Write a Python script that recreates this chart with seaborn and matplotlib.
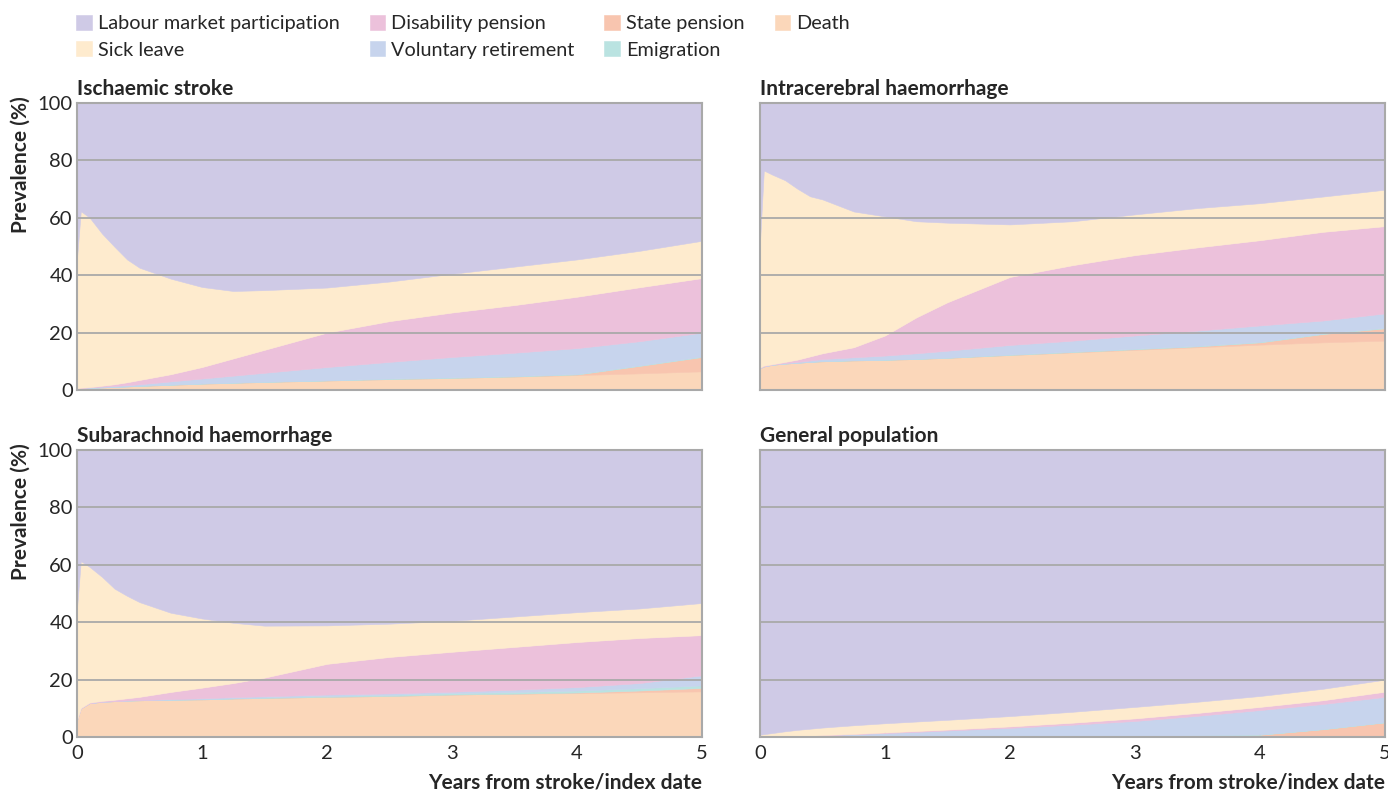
import matplotlib
matplotlib.use("Agg")
import matplotlib.pyplot as plt
import seaborn as sns

# Time points (years from stroke/index date)
years = [0, 0.03, 0.1, 0.2, 0.3, 0.4, 0.5, 0.75, 1, 1.25, 1.5, 2, 2.5, 3, 3.5, 4, 4.5, 5]

# Band thickness (%) per state, bottom to top
# Ischaemic stroke
isch_death = [0.3, 0.5, 0.7, 0.9, 1.1, 1.25, 1.4, 1.8, 2.2, 2.5, 2.8, 3.3, 3.8, 4.2, 4.7, 5.2, 5.8, 6.5]
isch_state = [0, 0, 0, 0, 0, 0, 0, 0, 0, 0, 0, 0, 0, 0, 0, 0.2, 2.6, 5.0]
isch_emig = [0, 0, 0, 0, 0, 0, 0.1, 0.1, 0.1, 0.1, 0.1, 0.1, 0.2, 0.2, 0.2, 0.2, 0.2, 0.2]
isch_vol = [0.2, 0.2, 0.2, 0.3, 0.3, 0.45, 0.5, 1.1, 1.7, 2.4, 3.1, 4.6, 5.8, 7.1, 8.1, 9.0, 8.4, 8.3]
isch_dis = [0.1, 0.1, 0.1, 0.3, 0.6, 1.0, 1.5, 2.5, 4.0, 6.0, 8.0, 12.0, 14.2, 15.5, 16.6, 17.9, 18.8, 19.0]
isch_sick = [45.4, 61.5, 59.1, 53.0, 47.9, 42.8, 39.1, 33.3, 27.9, 23.5, 20.8, 15.7, 13.8, 13.5, 13.4, 13.0, 12.7, 13.0]
isch_lab = [54.0, 37.7, 39.9, 45.5, 50.1, 54.5, 57.4, 61.2, 64.1, 65.5, 65.2, 64.3, 62.2, 59.5, 57.0, 54.5, 51.5, 48.0]

# Intracerebral haemorrhage
ich_death = [7.6, 8.2, 8.8, 9.2, 9.5, 9.8, 10.0, 10.3, 10.5, 10.8, 11.2, 12.2, 13.1, 14.0, 14.9, 15.8, 16.6, 17.2]
ich_state = [0, 0, 0, 0, 0, 0, 0, 0, 0, 0, 0, 0, 0.1, 0.2, 0.3, 0.8, 2.9, 4.3]
ich_emig = [0, 0, 0, 0, 0, 0, 0.1, 0.1, 0.1, 0.1, 0.1, 0.2, 0.2, 0.2, 0.2, 0.2, 0.2, 0.2]
ich_vol = [0.1, 0.1, 0.1, 0.2, 0.3, 0.5, 0.7, 1.0, 1.4, 1.9, 2.4, 3.3, 3.8, 4.6, 5.3, 5.7, 4.5, 5.0]
ich_dis = [0.1, 0.2, 0.1, 0.4, 0.8, 1.4, 2.0, 3.5, 7.0, 12.5, 16.9, 23.7, 26.3, 28.0, 29.0, 29.7, 30.9, 30.4]
ich_sick = [44.2, 68.0, 66.0, 63.3, 59.5, 55.8, 53.6, 47.3, 41.5, 33.5, 27.7, 18.3, 15.3, 14.2, 13.7, 12.9, 12.3, 12.7]
ich_lab = [48.0, 23.5, 25.0, 26.9, 29.9, 32.5, 33.6, 37.8, 39.5, 41.2, 41.7, 42.3, 41.2, 38.8, 36.6, 34.9, 32.6, 30.2]

# Subarachnoid haemorrhage
sah_death = [6.0, 10.0, 11.8, 12.3, 12.5, 12.7, 12.8, 13.0, 13.1, 13.4, 13.6, 14.0, 14.3, 14.8, 15.1, 15.3, 15.6, 15.9]
sah_state = [0, 0, 0, 0, 0, 0, 0, 0, 0, 0, 0, 0, 0, 0, 0, 0.2, 0.6, 1.2]
sah_emig = [0, 0, 0, 0, 0, 0, 0, 0, 0.1, 0.1, 0.2, 0.3, 0.4, 0.5, 0.6, 0.7, 0.8, 0.9]
sah_vol = [0, 0, 0, 0, 0, 0.05, 0.1, 0.2, 0.3, 0.4, 0.4, 0.5, 0.5, 0.5, 0.8, 1.2, 1.8, 3.5]
sah_dis = [0, 0.1, 0.2, 0.3, 0.5, 0.75, 1.1, 2.5, 3.7, 4.9, 6.5, 10.7, 12.7, 13.9, 14.9, 15.7, 15.7, 14.0]
sah_sick = [39.0, 51.2, 47.3, 43.2, 38.7, 35.7, 33.0, 27.6, 24.1, 21.0, 18.1, 13.4, 11.6, 10.8, 10.6, 10.4, 10.3, 11.2]
sah_lab = [55.0, 38.7, 40.7, 44.2, 48.3, 50.8, 53.0, 56.7, 58.7, 60.2, 61.2, 61.1, 60.5, 59.5, 58.0, 56.5, 55.2, 53.3]

# General population
gen_death = [0, 0, 0.05, 0.1, 0.1, 0.1, 0.1, 0.1, 0.1, 0.1, 0.1, 0.2, 0.2, 0.2, 0.3, 0.3, 0.4, 0.5]
gen_state = [0, 0, 0, 0, 0, 0, 0, 0, 0, 0, 0, 0, 0, 0.1, 0.2, 0.5, 2.3, 4.6]
gen_emig = [0, 0, 0, 0, 0, 0, 0.1, 0.1, 0.1, 0.1, 0.1, 0.1, 0.1, 0.1, 0.1, 0.1, 0.1, 0.1]
gen_vol = [0, 0.05, 0.1, 0.15, 0.2, 0.3, 0.4, 0.8, 1.2, 1.6, 2.1, 2.9, 4.0, 5.2, 6.8, 8.5, 8.7, 8.8]
gen_dis = [0, 0, 0, 0, 0, 0, 0.1, 0.1, 0.2, 0.3, 0.3, 0.5, 0.7, 0.9, 1.0, 1.1, 1.3, 1.8]
gen_sick = [0.8, 0.95, 1.25, 1.75, 2.2, 2.5, 2.6, 3.0, 3.2, 3.3, 3.4, 3.6, 3.8, 4.0, 3.9, 3.8, 4.0, 4.2]
gen_lab = [99.2, 99.0, 98.6, 98.0, 97.5, 97.1, 96.7, 95.9, 95.2, 94.6, 94.0, 92.7, 91.2, 89.5, 87.7, 85.7, 83.2, 80.0]

panel_titles = ["Ischaemic stroke", "Intracerebral haemorrhage",
                "Subarachnoid haemorrhage", "General population"]
state_labels = ["Death", "State pension", "Emigration", "Voluntary retirement",
                "Disability pension", "Sick leave", "Labour market participation"]
state_colors = ["#FBD7BA", "#F8C5AF", "#BAE3E1", "#C7D4ED",
                "#ECC1DB", "#FEEBCE", "#CFCAE6"]

panels = [
    [isch_death, isch_state, isch_emig, isch_vol, isch_dis, isch_sick, isch_lab],
    [ich_death, ich_state, ich_emig, ich_vol, ich_dis, ich_sick, ich_lab],
    [sah_death, sah_state, sah_emig, sah_vol, sah_dis, sah_sick, sah_lab],
    [gen_death, gen_state, gen_emig, gen_vol, gen_dis, gen_sick, gen_lab],
]

sns.set_theme(style="white")
plt.rcParams['font.family'] = ['Lato', 'DejaVu Sans']

fig = plt.figure(figsize=(13.88, 7.93), dpi=100)
positions = [
    [0.0555, 0.5082, 0.4503, 0.3619],
    [0.5476, 0.5082, 0.4503, 0.3619],
    [0.0555, 0.0706, 0.4503, 0.3619],
    [0.5476, 0.0706, 0.4503, 0.3619],
]

grey = "#A9A9A9"
for i, (pos, layers, title) in enumerate(zip(positions, panels, panel_titles)):
    ax = fig.add_axes(pos)
    polys = ax.stackplot(years, *layers, colors=state_colors, labels=state_labels,
                         edgecolor="face", linewidth=0.4)
    ax.set_xlim(0, 5)
    ax.set_ylim(0, 100)
    ax.set_yticks([0, 20, 40, 60, 80, 100])
    ax.set_xticks([0, 1, 2, 3, 4, 5])
    for yv in [20, 40, 60, 80]:
        ax.axhline(yv, color=grey, lw=1.3, zorder=5)
    for sp in ax.spines.values():
        sp.set_color(grey)
        sp.set_linewidth(1.5)
        sp.set_zorder(6)
    ax.tick_params(axis="x", direction="in", length=6, width=1.3, color=grey,
                   labelsize=14.5, pad=6, bottom=True)
    ax.tick_params(axis="y", length=0, labelsize=14.5, pad=3)
    if i < 2:
        ax.tick_params(axis="x", labelbottom=False)
    else:
        ax.set_xlabel("Years from stroke/index date", fontsize=15,
                      fontweight="bold", loc="right", labelpad=7)
    if i % 2 == 1:
        ax.tick_params(axis="y", labelleft=False)
    else:
        ax.text(-0.091, 0.787, "Prevalence (%)", transform=ax.transAxes,
                rotation=90, ha="center", va="center", fontsize=15,
                fontweight="bold")
    ax.set_title(title, loc="left", fontsize=15, fontweight="bold", pad=6)
    if i == 0:
        handles = polys

# Legend order: rows of Labour/Disability/State/Death, then Sick/Voluntary/Emigration
order = [6, 5, 4, 3, 1, 2, 0]
fig.legend([handles[k] for k in order], [state_labels[k] for k in order],
           loc="upper left", bbox_to_anchor=(0.042, 1.004), ncol=4, frameon=False,
           fontsize=14.3, handlelength=0.8, handleheight=0.8, handletextpad=0.3,
           columnspacing=1.5, labelspacing=0.45)

fig.savefig("out.png", dpi=100)
